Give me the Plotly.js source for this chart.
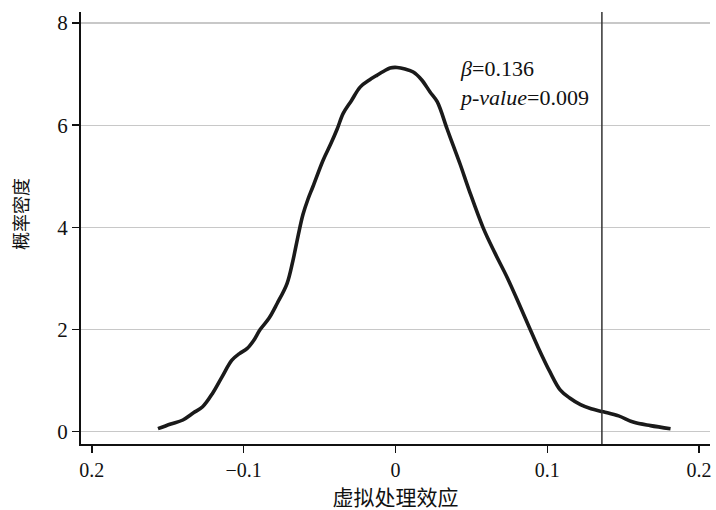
<!DOCTYPE html>
<html>
<head>
<meta charset="utf-8">
<script src="https://cdn.plot.ly/plotly-3.0.1.min.js"></script>
<style>html,body{margin:0;padding:0;background:#fff;}#chart{width:716px;height:510px;}</style>
</head>
<body>
<div id="chart"></div>
<script>
// Kernel density of placebo (virtual treatment) coefficients
const effectX = [-0.1564, -0.148, -0.140, -0.133, -0.127, -0.1203, -0.1143, -0.1077, -0.1027, -0.0976, -0.0935, -0.0891, -0.0833, -0.0779, -0.0714, -0.0675, -0.0640, -0.0609, -0.0575, -0.0543, -0.0477, -0.0425, -0.0383, -0.0344, -0.0290, -0.0231, -0.0169, -0.0120, -0.0074, -0.0035, 0.0011, 0.0063, 0.0117, 0.0172, 0.0228, 0.0275, 0.0340, 0.0381, 0.0427, 0.0485, 0.0578, 0.0655, 0.0736, 0.0816, 0.0882, 0.0940, 0.1018, 0.1085, 0.1148, 0.1219, 0.1289, 0.1370, 0.1470, 0.1566, 0.1680, 0.1812];
const densityY = [0.06, 0.15, 0.23, 0.37, 0.49, 0.76, 1.07, 1.40, 1.53, 1.63, 1.78, 2.00, 2.22, 2.51, 2.90, 3.35, 3.85, 4.25, 4.56, 4.80, 5.31, 5.64, 5.93, 6.23, 6.48, 6.75, 6.89, 6.98, 7.06, 7.12, 7.13, 7.10, 7.04, 6.89, 6.65, 6.46, 5.93, 5.60, 5.23, 4.73, 3.99, 3.50, 3.02, 2.49, 2.04, 1.65, 1.17, 0.82, 0.66, 0.53, 0.45, 0.39, 0.31, 0.19, 0.12, 0.06];
const betaValue = 0.136;
const pValue = 0.009;
const xTickVals = [-0.2, -0.1, 0, 0.1, 0.2];
const xTickText = ['0.2', '\u22120.1', '0', '0.1', '0.2'];
const yTickVals = [0, 2, 4, 6, 8];
const yTickText = ['0', '2', '4', '6', '8'];
const xTitle = '虚拟处理效应';
const yTitle = '概率密度';

const serif = '"Liberation Serif", "Times New Roman", "Noto Sans CJK SC", serif';

const traces = [{
  x: effectX,
  y: densityY,
  type: 'scatter',
  mode: 'lines',
  line: {color: '#1a1a1a', width: 3.6, shape: 'spline', smoothing: 1},
  hoverinfo: 'skip',
  showlegend: false
}];

const layout = {
  width: 716,
  height: 510,
  margin: {l: 81, r: 6, t: 12, b: 66},
  paper_bgcolor: '#ffffff',
  plot_bgcolor: '#ffffff',
  font: {family: serif, color: '#111111', size: 20},
  showlegend: false,
  xaxis: {
    range: [-0.2071, 0.2072],
    tickvals: xTickVals,
    ticktext: xTickText,
    showgrid: false,
    zeroline: false,
    showline: true,
    linecolor: '#111111',
    linewidth: 2,
    ticks: 'outside',
    ticklen: 7,
    tickwidth: 1.5,
    tickcolor: '#111111',
    tickfont: {family: serif, size: 20, color: '#111111'},
    title: {text: xTitle, font: {family: serif, size: 21, color: '#111111'}, standoff: 13}
  },
  yaxis: {
    range: [-0.24, 8.215],
    tickvals: yTickVals,
    ticktext: yTickText,
    showgrid: true,
    gridcolor: '#c8c8c8',
    gridwidth: 1.2,
    zeroline: false,
    showline: true,
    linecolor: '#111111',
    linewidth: 2,
    ticks: 'outside',
    ticklen: 7,
    tickwidth: 1.5,
    tickcolor: '#111111',
    tickfont: {family: serif, size: 21, color: '#111111'}
  },
  shapes: [{
    type: 'line',
    xref: 'x', yref: 'paper',
    x0: betaValue, x1: betaValue, y0: 0, y1: 1,
    line: {color: '#333333', width: 1.5}
  }],
  annotations: [{
    xref: 'x', yref: 'y',
    x: 0.0405, y: 7.4,
    xanchor: 'left', yanchor: 'top',
    align: 'left',
    showarrow: false,
    text: '<i>β</i>=' + betaValue.toFixed(3) + '<br><i>p-value</i>=' + pValue.toFixed(3),
    font: {family: serif, size: 22, color: '#111111'}
  }, {
    xref: 'paper', yref: 'paper',
    x: -0.094, y: 0.532,
    xanchor: 'center', yanchor: 'middle',
    textangle: -90,
    showarrow: false,
    text: yTitle,
    font: {family: serif, size: 18, color: '#111111'}
  }]
};

Plotly.newPlot('chart', traces, layout, {displayModeBar: false, staticPlot: true});
</script>
</body>
</html>
